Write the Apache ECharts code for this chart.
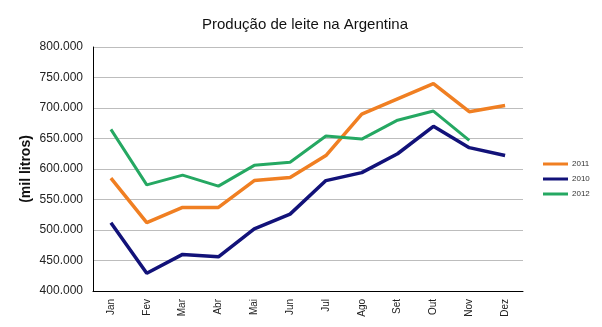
<!DOCTYPE html>
<html><head><meta charset="utf-8">
<script src="https://cdn.jsdelivr.net/npm/echarts@6/dist/echarts.min.js"></script>
<style>html,body{margin:0;padding:0;background:#fff}#c{width:602px;height:327px}</style>
</head><body><div id="c"></div>
<script>
const months = ['Jan','Fev','Mar','Abr','Mai','Jun','Jul','Ago','Set','Out','Nov','Dez'];
const s2011 = [585, 512, 537, 537, 581, 586, 622, 690, 715, 740, 694, 704];
const s2010 = [512, 429, 460, 456, 502, 526, 581, 594, 625, 670, 635, 622];
const s2012 = [665, 574, 590, 572, 606, 611, 654, 649, 680, 695, 647, null];
const yTicks = {min: 400000, max: 800000, interval: 50000};

function fmt(v){ return (v/1000).toFixed(3); }

const chart = echarts.init(document.getElementById('c'));
chart.setOption({
  animation:false,
  textStyle:{fontFamily:'Liberation Sans, Arial, sans-serif'},
  title:{text:'Produção de leite na Argentina', left:300, top:12, textAlign:'center',
    textStyle:{fontSize:15, fontWeight:'normal', color:'#111', fontFamily:'Liberation Sans, Arial, sans-serif'}},
  grid:{left:93, top:47, right:79, bottom:36},
  legend:{orient:'vertical', left:538, top:155, itemWidth:25, itemHeight:3, itemGap:7, icon:'rect',
    textStyle:{fontSize:8, color:'#333', padding:[0,0,0,-1]},
    data:['2011','2010','2012']},
  xAxis:{type:'category', data:months, boundaryGap:true,
    axisLine:{lineStyle:{color:'#000', width:1}}, axisTick:{show:false},
    axisLabel:{rotate:90, fontSize:10, color:'#222', margin:8}},
  yAxis:{type:'value', min:yTicks.min, max:yTicks.max, interval:yTicks.interval,
    name:'(mil litros)', nameLocation:'middle', nameGap:60, nameRotate:90, nameMoveOverlap:false,
    nameTextStyle:{fontSize:14, fontWeight:'bold', color:'#111'},
    axisLine:{show:true, lineStyle:{color:'#000', width:1}}, axisTick:{show:false},
    splitLine:{lineStyle:{color:'#bdbdbd', width:1}},
    axisLabel:{formatter:fmt, fontSize:12, color:'#222', margin:10}},
  series:[
    {name:'2011', type:'line', data:s2011.map(v=>v*1000), symbol:'none', lineStyle:{width:3.5, color:'#F07F22'}, itemStyle:{color:'#F07F22'}},
    {name:'2010', type:'line', data:s2010.map(v=>v*1000), symbol:'none', lineStyle:{width:3.5, color:'#121279'}, itemStyle:{color:'#121279'}},
    {name:'2012', type:'line', data:s2012.map(v=>v==null?null:v*1000), symbol:'none', lineStyle:{width:3, color:'#25A862'}, itemStyle:{color:'#25A862'}}
  ]
});
</script></body></html>
